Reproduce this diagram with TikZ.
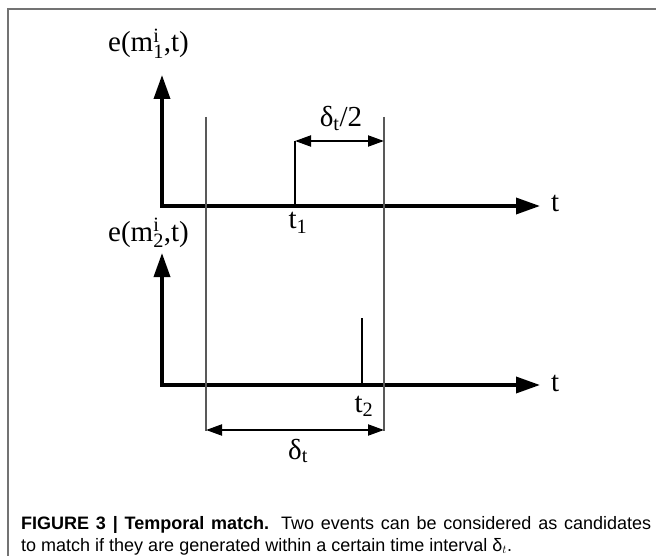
\documentclass[tikz,border=0pt]{standalone}
\usepackage{fontspec}
\setmainfont{Liberation Serif}
\newfontfamily\capfont{Liberation Sans}
\usetikzlibrary{arrows.meta}
\begin{document}
\begin{tikzpicture}[x=1pt,y=-1pt,
  axis/.style={line width=3.5pt, line join=miter, {Triangle[length=24pt,width=16pt]}-{Triangle[length=24pt,width=16pt]}},
  guide/.style={line width=1.5pt, draw=black!65},
  spike/.style={line width=2.2pt},
  dim/.style={line width=2pt, {Triangle[length=16pt,width=11pt]}-{Triangle[length=16pt,width=11pt]}},
  lab/.style={font=\fontsize{29}{30}\selectfont, inner sep=0pt},
  captext/.style={font=\capfont\fontsize{18}{21}\selectfont, inner sep=0pt, anchor=base west}]
\useasboundingbox (0,0) rectangle (656,556);
\coordinate (fa) at (7.5,556);
\coordinate (fb) at (7.5,9.5);
\coordinate (fc) at (656,9.5);
\draw[line width=2pt, black!55] (fa) -- (fb) -- (fc);
% axes
\coordinate (y1) at (162,75);
\coordinate (o1) at (162,206);
\coordinate (x1) at (540,206);
\coordinate (y2) at (162,253);
\coordinate (o2) at (162,385);
\coordinate (x2) at (540,385);
\draw[axis] (y1) -- (o1) -- (x1);
\draw[axis] (y2) -- (o2) -- (x2);
% guides
\coordinate (ga) at (206,117);
\coordinate (gab) at (206,431);
\coordinate (gb) at (384,117);
\coordinate (gbb) at (384,431);
\draw[guide] (ga) -- (gab);
\draw[guide] (gb) -- (gbb);
% spikes
\coordinate (s1t) at (295,141);
\coordinate (s1b) at (295,206);
\draw[spike] (s1t) -- (s1b);
\coordinate (s2t) at (362,318);
\coordinate (s2b) at (362,385);
\draw[line width=1.6pt] (s2t) -- (s2b);
% dimension arrows
\coordinate (gbm) at (384,141);
\draw[dim] (s1t) -- (gbm);
\coordinate (da) at (206,430);
\coordinate (db) at (384,430);
\draw[dim] (da) -- (db);
% labels
\node[lab, anchor=base west] (e1) at (108,52) {e(m$\mathrm{^i_1}$,t)};
\node[lab, anchor=base west] (e2) at (108,241) {e(m$\mathrm{^i_2}$,t)};
\node[lab, anchor=base west] (tx1) at (551,212) {t};
\node[lab, anchor=base west] (tx2) at (551,391) {t};
\node[lab, anchor=base] (t1) at (298,229) {t$\mathrm{_1}$};
\node[lab, anchor=base] (t2) at (364,412) {t$\mathrm{_2}$};
\node[lab, anchor=base] (d2) at (341,127) {δ$\mathrm{_t}$/2};
\node[lab, anchor=base] (d1) at (298,459) {δ$\mathrm{_t}$};
% caption
\node[captext] (c1) at (21,529) {\makebox[630pt][s]{\textbf{FIGURE 3 | Temporal match.} Two events can be considered as candidates}};
\node[captext] (c2) at (21,551) {to match if they are generated within a certain time interval δ$_t$.};
\end{tikzpicture}
\end{document}
